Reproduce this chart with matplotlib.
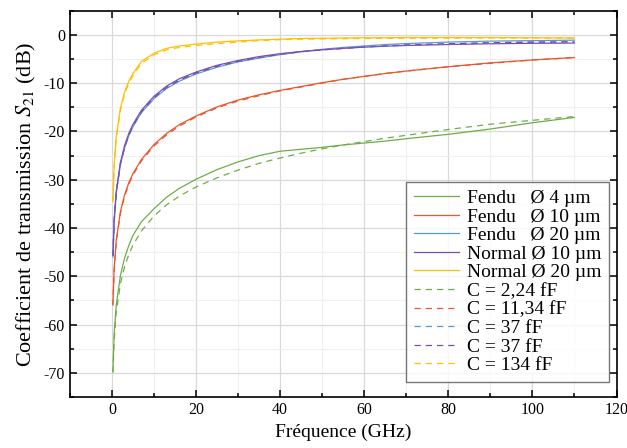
import matplotlib
matplotlib.use("Agg")
import matplotlib.pyplot as plt
from matplotlib.ticker import MultipleLocator

plt.rcParams["font.family"] = ["Liberation Serif", "DejaVu Serif"]
plt.rcParams["mathtext.fontset"] = "stix"
plt.rcParams["axes.unicode_minus"] = False

# fréquences (GHz)
freq = [0.22, 0.5, 1, 2, 3, 4, 5, 7, 10, 13, 16, 20, 25, 30, 35, 40, 45, 50, 55, 60, 65, 70, 80, 90, 100, 110]

# mesures / simulations EM (dB)
fendu_4 = [-69.6, -62.0, -56.0, -49.8, -46.2, -43.6, -41.5, -38.7, -36.0, -33.6, -31.8, -29.9, -27.9, -26.3,
           -25.0, -24.1, -23.7, -23.3, -22.8, -22.4, -22.0, -21.5, -20.6, -19.5, -18.2, -17.1]
fendu_10 = [-55.7, -48.6, -42.6, -36.6, -33.1, -30.6, -28.7, -25.8, -22.7, -20.4, -18.6, -16.8, -14.9, -13.5,
            -12.4, -11.5, -10.7, -9.9, -9.2, -8.6, -8.0, -7.5, -6.6, -5.8, -5.2, -4.7]
fendu_20 = [-46.0, -38.9, -32.9, -26.9, -23.4, -20.9, -19.0, -16.1, -13.2, -11.1, -9.6, -8.1, -6.7, -5.6,
            -4.8, -4.1, -3.5, -3.0, -2.6, -2.3, -2.0, -1.8, -1.5, -1.3, -1.2, -1.1]
normal_10 = [-45.5, -38.4, -32.4, -26.4, -22.9, -20.4, -18.5, -15.6, -12.7, -10.6, -9.1, -7.7, -6.3, -5.3,
             -4.5, -3.9, -3.45, -3.1, -2.8, -2.55, -2.35, -2.2, -2.0, -1.85, -1.75, -1.7]
normal_20 = [-34.2, -27.1, -21.1, -15.2, -11.8, -9.6, -8.0, -5.5, -3.8, -2.8, -2.3, -1.9, -1.5, -1.25,
             -1.05, -0.9, -0.75, -0.7, -0.65, -0.6, -0.6, -0.55, -0.55, -0.55, -0.6, -0.65]

# modèle capacité série (dB)
c_224 = [-70.0, -63.4, -57.5, -51.5, -48.0, -45.5, -43.5, -40.6, -37.5, -35.2, -33.4, -31.5, -29.6, -28.0,
         -26.6, -25.5, -24.5, -23.6, -22.8, -22.1, -21.4, -20.8, -19.6, -18.5, -17.7, -16.9]
c_1134 = [-56.1, -49.0, -42.9, -36.9, -33.4, -30.9, -29.0, -26.1, -23.0, -20.7, -18.9, -17.0, -15.1, -13.7,
          -12.6, -11.6, -10.8, -10.0, -9.2, -8.6, -8.0, -7.5, -6.6, -5.9, -5.2, -4.7]
c_37 = [-45.8, -38.7, -32.7, -26.7, -23.2, -20.7, -18.8, -15.9, -13.0, -10.9, -9.4, -7.9, -6.5, -5.5,
        -4.7, -4.0, -3.5, -3.1, -2.8, -2.5, -2.3, -2.1, -1.85, -1.65, -1.5, -1.45]
c_134 = [-34.6, -27.5, -21.5, -15.6, -12.2, -10.0, -8.4, -5.9, -4.1, -3.1, -2.6, -2.2, -1.8, -1.5,
         -1.2, -1.0, -0.9, -0.85, -0.8, -0.75, -0.72, -0.7, -0.68, -0.66, -0.65, -0.65]

colors = ["#70AD47", "#E8572F", "#5B9BD5", "#7D4AAD", "#FFC000"]
solid_labels = ["Fendu   Ø 4 µm", "Fendu   Ø 10 µm", "Fendu   Ø 20 µm", "Normal Ø 10 µm", "Normal Ø 20 µm"]
dash_labels = ["C = 2,24 fF", "C = 11,34 fF", "C = 37 fF", "C = 37 fF", "C = 134 fF"]
solids = [fendu_4, fendu_10, fendu_20, normal_10, normal_20]
dashes = [c_224, c_1134, c_37, c_37, c_134]

fig = plt.figure(figsize=(6.27, 4.48), dpi=100)
ax = fig.add_axes([0.1116, 0.1138, 0.8717, 0.8623])

for y, c, lab in zip(solids, colors, solid_labels):
    ax.plot(freq, y, color=c, lw=0.9, label=lab)
for y, c, lab in zip(dashes, colors, dash_labels):
    ax.plot(freq, y, color=c, lw=0.9, ls=(0, (5, 4)), label=lab)

ax.set_xlim(-10, 120)
ax.set_ylim(-75, 5)
ax.xaxis.set_major_locator(MultipleLocator(20))
ax.xaxis.set_minor_locator(MultipleLocator(10))
ax.yaxis.set_major_locator(MultipleLocator(10))
ax.yaxis.set_minor_locator(MultipleLocator(5))
ax.grid(which="major", color="#d9d9d9", lw=0.9)
ax.grid(which="minor", color="#efefef", lw=0.8)
ax.set_axisbelow(True)
ax.tick_params(which="both", direction="in", top=True, right=True, labelsize=11.5, width=1.1)
ax.tick_params(which="major", length=5)
ax.tick_params(which="minor", length=3)
for s in ax.spines.values():
    s.set_linewidth(1.2)

ax.set_xlabel("Fréquence (GHz)", fontsize=14, labelpad=4)
ax.set_ylabel(r"Coefficient de transmission $S_{21}$ (dB)", fontsize=16, labelpad=4)

leg = ax.legend(loc="lower right", bbox_to_anchor=(0.986, 0.039), borderaxespad=0, fontsize=14,
                frameon=True, fancybox=False, edgecolor="#555555", handlelength=2.3,
                labelspacing=0.05, handletextpad=0.4, borderpad=0.4)
leg.get_frame().set_linewidth(1.0)

fig.savefig("out.png", dpi=100)
